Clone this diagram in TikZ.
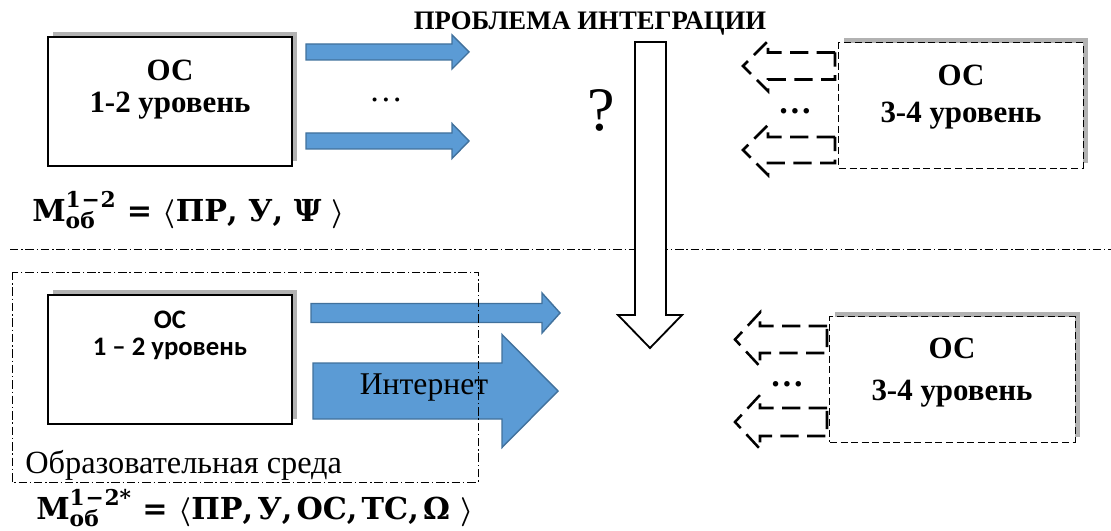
\documentclass[tikz,border=0pt]{standalone}
\usepackage{fontspec}
\setmainfont{Liberation Serif}
\newfontfamily\boxsans{Carlito}
\newfontfamily\formfont{DejaVu Serif}
\usetikzlibrary{calc}
\usetikzlibrary{shadows}
\definecolor{arrowblue}{RGB}{91,155,213}
\definecolor{arrowedge}{RGB}{65,113,156}
% block arrow: style, tail x, tip x, y, shaft half width, head half width, head length
\newcommand{\blockarrow}[7]{\draw[#1] (#2,{#4-(#5)}) -- ({#3-(#7)},{#4-(#5)}) -- ({#3-(#7)},{#4-(#6)}) -- (#3,#4) -- ({#3-(#7)},{#4+(#6)}) -- ({#3-(#7)},{#4+(#5)}) -- (#2,{#4+(#5)}) -- cycle;}
\newcommand{\fm}{\formfont\bfseries\fontsize{21.5}{26}\selectfont}
\newcommand{\fms}{\formfont\bfseries\fontsize{15.5}{18}\selectfont}
\newcommand{\upidx}{1\kern0.5pt−\kern0.5pt2}
\newcommand{\sep}{,\kern3pt}
\tikzset{
  osshadow/.style={general shadow={shadow xshift=3.5pt, shadow yshift=3.5pt, fill=gray!60}},
  osbox/.style={draw, fill=white, line width=0.9pt, minimum width=6.1cm, minimum height=3.225cm, osshadow},
  osdashbox/.style={draw, fill=white, line width=0.7pt, dash pattern=on 5pt off 2.5pt, minimum width=6.1cm, minimum height=3.125cm, osshadow},
  bluearrow/.style={fill=arrowblue, draw=arrowedge, line width=1pt},
  dasharrow/.style={draw, line width=1.8pt, dash pattern=on 13pt off 6pt},
  dashdot/.style={line width=0.6pt, dash pattern=on 6pt off 2pt on 1pt off 2pt},
  boxtext/.style={font=\bfseries\fontsize{22}{26}\selectfont, inner sep=0pt},
  sanstext/.style={font=\boxsans\bfseries\fontsize{19}{22}\selectfont, inner sep=0pt}
}
\begin{document}
\begin{tikzpicture}[x=0.025cm, y=-0.025cm]
        \useasboundingbox (0,0) rectangle (1111,531);
        %boxes
        \node[osbox] (os12) at (170,101.5) {};
        \node[osbox] (os12net) at (170,359.5) {};
        \node[osdashbox] (os34) at (961,105.5) {};
        \node[osdashbox, minimum width=6.125cm] (os34net) at (952.5,379.5) {};
        %blue arrows
        \blockarrow{bluearrow}{306}{469}{52}{8}{17}{17}
        \blockarrow{bluearrow}{306}{469}{141}{8}{17.5}{17}
        \blockarrow{bluearrow}{311}{560}{313}{9.5}{20}{18}
        \blockarrow{bluearrow}{313}{558}{391}{28}{56.5}{56}
        %separators
        \draw[dashdot] (10,249) -- (1111,249);
        \draw[dashdot] (12,272) rectangle (478,482);
        %integration arrow
        \draw[fill=white, line width=1.3pt] (635,42) -- (666,42) -- (666,315) -- (682,315) -- (650,348) -- (618,315) -- (635,315) -- cycle;
        %dashed arrows
        \blockarrow{dasharrow}{835}{743}{66}{13.5}{25}{-25}
        \blockarrow{dasharrow}{835}{743}{150}{13}{25}{-25}
        \blockarrow{dasharrow}{827}{735}{339.5}{13.5}{27}{-25}
        \blockarrow{dasharrow}{827}{735}{422}{14}{27}{-25}
        %texts
        \node[font=\bfseries\fontsize{19}{23}\selectfont, inner sep=0pt] (title) at (590,24) {ПРОБЛЕМА ИНТЕГРАЦИИ};
        \node[boxtext] (os12a) at (170,70) {ОС};
        \node[boxtext] (os12b) at (170,106) {1-2 уровень};
        \node[boxtext] (os34a) at (961,75) {ОС};
        \node[boxtext] (os34b) at (961,116) {3-4 уровень};
        \node[boxtext] (os34neta) at (952,348) {ОС};
        \node[boxtext] (os34netb) at (952,394) {3-4 уровень};
        \node[sanstext] (os12neta) at (170,320) {ОС};
        \node[sanstext] (os12netb) at (170,349) {1 – 2 уровень};
        \node[font=\fontsize{24}{28}\selectfont, inner sep=0pt] (dotsup) at (386,100) {…};
        \node[font=\bfseries\fontsize{24}{28}\selectfont, inner sep=0pt] (dots34) at (795,111) {…};
        \node[font=\bfseries\fontsize{24}{28}\selectfont, inner sep=0pt] (dots34net) at (787,384) {…};
        \node[font=\fontsize{44}{50}\selectfont, inner sep=0pt] (qmark) at (601,110) {?};
        \node[font=\fontsize{22.5}{26}\selectfont, inner sep=0pt] (inet) at (424,388) {Интернет};
        \node[font=\fontsize{23}{27}\selectfont, inner sep=0pt, anchor=west] (env) at (25,465) {Образовательная среда};
        \node[font=\fm, inner sep=0pt, anchor=west] (model12) at (32,210)
          {$\hbox{М}^{\hbox{\fms\upidx}}_{\hbox{\fms об}}$ = {\boldmath$\langle$}ПР, У, Ψ {\boldmath$\rangle$}};
        \node[font=\fm, inner sep=0pt, anchor=west] (model12net) at (36,508)
          {$\hbox{М}^{\hbox{\fms\upidx*}}_{\hbox{\fms об}}$ = {\boldmath$\langle$}ПР\sep У\sep ОС\sep ТС\sep Ω {\boldmath$\rangle$}};
\end{tikzpicture}
\end{document}
